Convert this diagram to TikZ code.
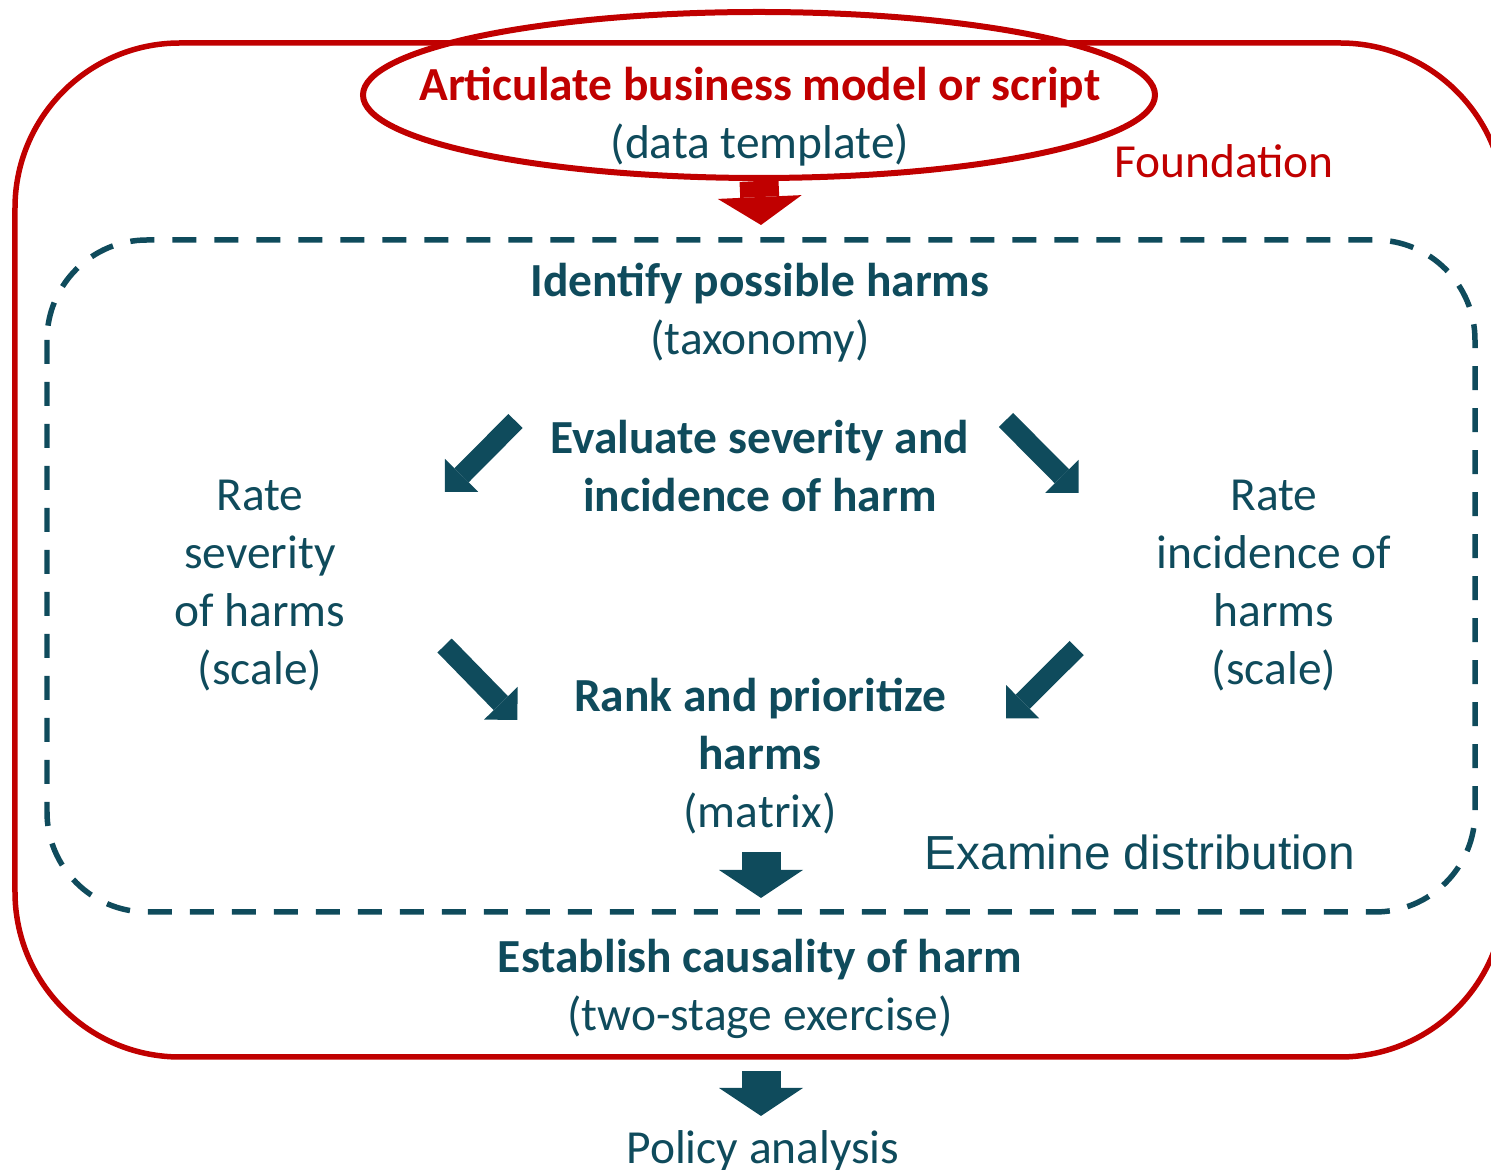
\documentclass[tikz,border=0pt]{standalone}
\usepackage{fontspec}
\setmainfont{Carlito}
\newfontfamily\arialfont{Liberation Sans}
\usetikzlibrary{arrows.meta}
\usetikzlibrary{shapes.geometric}
\definecolor{harmred}{RGB}{192,0,0}
\definecolor{harmteal}{RGB}{15,75,92}

\begin{document}
\begin{tikzpicture}[
    txt/.style={text=harmteal, align=center, inner sep=0pt,
      font=\fontsize{13.5}{16.5}\selectfont},
    boldtxt/.style={txt, font=\fontsize{13.5}{16.5}\selectfont\bfseries},
    redtxt/.style={txt, text=harmred},
    bigarrow/.style={harmteal, line width=0.39cm,
      -{Triangle[length=0.28cm,width=0.84cm,line width=0pt]}},
    redarrow/.style={bigarrow, harmred},
    diagarrow/.style={harmteal, line width=0.20cm,
      -{Triangle[length=0.235cm,width=0.47cm,line width=0pt]}}
  ]
  \useasboundingbox (0,0) rectangle (14.91,-11.70);
  \clip (0,0) rectangle (14.91,-11.70);

  % outer frame and dashed frame
  \draw[harmred, line width=0.055cm, rounded corners=1.65cm]
    (0.15,-0.43) rectangle (15.05,-10.57);
  \draw[harmteal, line width=0.055cm, dash pattern=on 0.24cm off 0.18cm,
    rounded corners=1.0cm] (0.47,-2.40) rectangle (14.75,-9.12);

  % foundation
  \node[ellipse, draw=harmred, line width=0.06cm, minimum width=7.92cm,
    minimum height=1.66cm] (script) at (7.59,-0.95) {};
  \node[redtxt, font=\fontsize{13.5}{16.5}\selectfont\bfseries]
    (scripttitle) at (7.60,-0.88) {Articulate business model or script};
  \node[txt] (scriptnote) at (7.60,-1.45) {(data template)};
  \node[redtxt] (foundation) at (12.24,-1.61) {Foundation};

  % steps
  \node[txt] (harms) at (7.60,-3.125) {\textbf{Identify possible harms}\\(taxonomy)};
  \node[boldtxt] (evaluate) at (7.60,-4.66) {Evaluate severity and\\incidence of harm};
  \node[txt] (ratesev) at (2.60,-5.855) {Rate\\severity\\of harms\\(scale)};
  \node[txt] (rateinc) at (12.74,-5.855) {Rate\\incidence of\\harms\\(scale)};
  \node[txt] (rank) at (7.60,-7.56) {\textbf{Rank and prioritize}\\\textbf{harms}\\(matrix)};
  \node[txt, font=\fontsize{13.6}{16.4}\selectfont\arialfont]
    (examine) at (11.40,-8.52) {Examine distribution};
  \node[txt] (causal) at (7.60,-9.89) {\textbf{Establish causality of harm}\\(two-stage exercise)};
  \node[txt] (policy) at (7.63,-11.51) {Policy analysis};

  % arrow ends
  \coordinate (scriptend) at (7.61,-2.25);
  \coordinate (sevstart) at (5.155,-4.21);
  \coordinate (sevend) at (4.45,-4.92);
  \coordinate (incstart) at (10.06,-4.20);
  \coordinate (incend) at (10.785,-4.93);
  \coordinate (sevback) at (4.446,-6.455);
  \coordinate (sevrank) at (5.173,-7.20);
  \coordinate (incback) at (10.767,-6.48);
  \coordinate (incrank) at (10.06,-7.183);
  \coordinate (rankstart) at (7.61,-8.52);
  \coordinate (rankend) at (7.61,-8.98);
  \coordinate (causalstart) at (7.61,-10.71);
  \coordinate (causalend) at (7.61,-11.16);

  \draw[redarrow] (script.south) -- (scriptend);
  \draw[diagarrow] (sevstart) -- (sevend);
  \draw[diagarrow] (incstart) -- (incend);
  \draw[diagarrow] (sevback) -- (sevrank);
  \draw[diagarrow] (incback) -- (incrank);
  \draw[bigarrow] (rankstart) -- (rankend);
  \draw[bigarrow] (causalstart) -- (causalend);
\end{tikzpicture}
\end{document}
